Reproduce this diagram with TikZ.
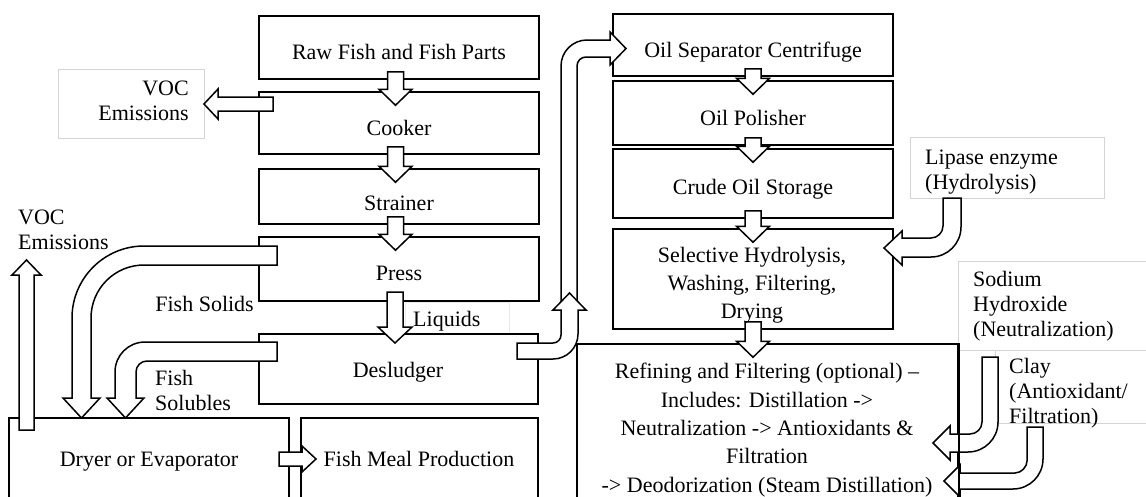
\documentclass[tikz,border=0pt]{standalone}
\usepackage{fontspec}
\setmainfont{Liberation Serif}
\usetikzlibrary{calc}
\newcommand\dnarrow[3]{% #1 x offset, #2 upper node, #3 lower node
  \draw[blk] let \p1=($(#2.south)+(#1,0)$), \p2=(#3.north) in
    (\x1-8pt,\y1+8pt) -- (\x1+8pt,\y1+8pt) -- (\x1+8pt,\y2+2pt) -- (\x1+16.5pt,\y2+2pt)
    -- (\x1,\y2-14pt) -- (\x1-16.5pt,\y2+2pt) -- (\x1-8pt,\y2+2pt) -- cycle;}
\begin{document}
\begin{tikzpicture}[x=1pt,y=-1pt,
  box/.style={draw, line width=1.5pt, inner sep=0pt, rectangle},
  gbox/.style={draw=black!17, line width=0.8pt, inner sep=0pt, rectangle},
  blk/.style={draw, fill=white, line width=1.5pt, line join=miter, miter limit=10},
  txt/.style={font=\fontsize{22}{28}\selectfont, inner sep=0pt, align=center},
  one/.style={txt, text height=15pt, text depth=5pt},
  lbl/.style={font=\fontsize{22}{25}\selectfont, inner sep=0pt}]
\useasboundingbox (0,0) rectangle (1146,496);
\clip (0,0) rectangle (1146,496);
\fill[white] (0,0) rectangle (1146,496);

% light text boxes
\node[gbox, minimum width=146pt, minimum height=69pt] (vocbox) at (131,103.5) {};
\node[gbox, minimum width=194pt, minimum height=61pt] (lipbox) at (1007,167.5) {};
\node[gbox, minimum width=202pt, minimum height=89pt] (sodbox) at (1059,305.5) {};
\node[gbox, minimum width=165pt, minimum height=73pt] (claybox) at (1077.5,386.5) {};
\node[gbox, draw=black!8, minimum width=104pt, minimum height=31pt] (liqbox) at (457,317.5) {};

% process boxes
\node[box, minimum width=280pt, minimum height=63pt] (raw) at (399,47.5) {};
\node[box, minimum width=280pt, minimum height=62pt] (cook) at (399,123) {};
\node[box, minimum width=280pt, minimum height=55pt] (strain) at (399,196.5) {};
\node[box, minimum width=280pt, minimum height=64pt] (press) at (399,269) {};
\node[box, minimum width=279pt, minimum height=70pt] (desl) at (398.5,369) {};
\node[box, minimum width=280pt, minimum height=92pt] (dryer) at (149,464) {};
\node[box, minimum width=237pt, minimum height=92pt] (meal) at (419.5,464) {};
\node[box, minimum width=280pt, minimum height=62pt] (oilsep) at (753,45) {};
\node[box, minimum width=280pt, minimum height=64pt] (polish) at (753,113) {};
\node[box, minimum width=280pt, minimum height=69pt] (crude) at (753,183.5) {};
\node[box, minimum width=280pt, minimum height=100pt] (sel) at (753,279) {};
\node[box, minimum width=381pt, minimum height=176pt] (refine) at (767.5,432) {};

% straight down arrows
\dnarrow{-3.5pt}{raw}{cook}
\dnarrow{-3.5pt}{cook}{strain}
\dnarrow{-3.5pt}{strain}{press}
\draw[blk] (387,292) -- (403,292) -- (403,327) -- (412,327) -- (395,343) -- (378,327) -- (387,327) -- cycle;
\dnarrow{0pt}{oilsep}{polish}
\dnarrow{0pt}{polish}{crude}
\dnarrow{0pt}{crude}{sel}
\dnarrow{0pt}{sel}{refine}

% cooker -> VOC
\draw[blk] (273,97) -- (218,97) -- (218,89) -- (204,104) -- (218,119) -- (218,111) -- (273,111) -- cycle;
% dryer -> VOC up
\draw[blk] (19,430) -- (19,275) -- (12,275) -- (26.5,260) -- (41,275) -- (34,275) -- (34,430) -- cycle;
% press -> dryer (fish solids)
\draw[blk] (277,246) -- (144,246) .. controls (104.3,246) and (72,278.3) .. (72,318)
  -- (72,398) -- (63,398) -- (81.5,418) -- (100,398) -- (91,398) -- (91,318)
  .. controls (91,288.7) and (114.7,265) .. (144,265) -- (277,265) -- cycle;
% desludger -> dryer (fish solubles)
\draw[blk] (277,342) -- (145,342) .. controls (128.4,342) and (115,355.4) .. (115,372)
  -- (115,398) -- (107,398) -- (125.5,418) -- (144,398) -- (136,398) -- (136,372)
  .. controls (136,365.9) and (140.9,361) .. (147,361) -- (277,361) -- cycle;
% dryer -> fish meal
\draw[blk] (279,452) -- (302,452) -- (302,446) -- (316,459) -- (302,472) -- (302,466) -- (279,466) -- cycle;
% long arrow up to oil separator
\draw[blk] (561,308) -- (561,66) .. controls (561,51.6) and (572.6,40) .. (587,40)
  -- (610,40) -- (610,32) -- (626,48.5) -- (610,65) -- (610,57) -- (586,57)
  .. controls (581,57) and (577,61) .. (577,66) -- (577,308) -- cycle;
% desludger -> up
\draw[blk] (517,343) -- (553,343) .. controls (557.4,343) and (561,339.4) .. (561,335)
  -- (561,310) -- (553,310) -- (569.5,293) -- (586,310) -- (578,310) -- (578,334)
  .. controls (578,347.8) and (566.8,359) .. (553,359) -- (517,359) -- cycle;
% lipase -> selective
\draw[blk] (943,198) -- (961,198) -- (961,227) .. controls (961,243.6) and (947.6,257) .. (931,257)
  -- (902,257) -- (902,265) -- (884,248) -- (902,231) -- (902,238) -- (931,238)
  .. controls (937.6,238) and (943,232.6) .. (943,226) -- cycle;
% sodium hydroxide -> refining
\draw[blk] (982,357) -- (998,357) -- (998,422) .. controls (998,438.6) and (984.6,452) .. (968,452)
  -- (950,452) -- (950,460) -- (933,443) -- (950,426) -- (950,434) -- (970,434)
  .. controls (976.6,434) and (982,428.6) .. (982,422) -- cycle;
% clay -> refining
\draw[blk] (1027,427) -- (1043,427) -- (1043,459) .. controls (1043,475.6) and (1029.6,489) .. (1013,489)
  -- (960,489) -- (960,497) -- (944,481) -- (960,465) -- (960,473) -- (1015,473)
  .. controls (1021.6,473) and (1027,466.6) .. (1027,461) -- cycle;
% refining border on top
\draw[line width=1.5pt] (refine.north east) -- (refine.south east);

% texts
\node[one] (rawt) at (399,54) {Raw Fish and Fish Parts};
\node[one] (cookt) at (399,130) {Cooker};
\node[one] (straint) at (399,205) {Strainer};
\node[one] (presst) at (399,275) {Press};
\node[one] (deslt) at (398,372) {Desludger};
\node[one] (dryert) at (149,461) {Dryer or Evaporator};
\node[one] (mealt) at (419,461) {Fish Meal Production};
\node[one] (oilsept) at (753,52) {Oil Separator Centrifuge};
\node[one] (polisht) at (753,120) {Oil Polisher};
\node[one] (crudet) at (753,189) {Crude Oil Storage};
\node[txt] (selt) at (752,285) {Selective Hydrolysis,\\Washing, Filtering,\\Drying};
\node[txt, font=\fontsize{22}{28.3}\selectfont] (reft) at (767,430) {Refining and Filtering (optional) –\\Includes: Distillation ->\\Neutralization -> Antioxidants \&\\Filtration\\-> Deodorization (Steam Distillation)};

\node[lbl, align=right, anchor=north east] (voc1) at (189,81) {VOC\\Emissions};
\node[lbl, align=left, anchor=north west] (voc2) at (18,210) {VOC\\Emissions};
\node[lbl, align=left, anchor=north west] (lip) at (925,150) {Lipase enzyme\\(Hydrolysis)};
\node[lbl, align=left, anchor=north west] (sod) at (973,271) {Sodium\\Hydroxide\\(Neutralization)};
\node[lbl, align=left, anchor=north west] (clay) at (1009,358) {Clay\\(Antioxidant/\\Filtration)};
\node[lbl, align=left, anchor=north west] (fsol) at (155,370) {Fish\\Solubles};
\node[lbl, text height=15pt, text depth=5pt, anchor=east] (fsolid) at (254,306) {Fish Solids};
\node[lbl, text height=15pt, text depth=5pt, anchor=west] (liq) at (413,321) {Liquids};
\end{tikzpicture}
\end{document}
